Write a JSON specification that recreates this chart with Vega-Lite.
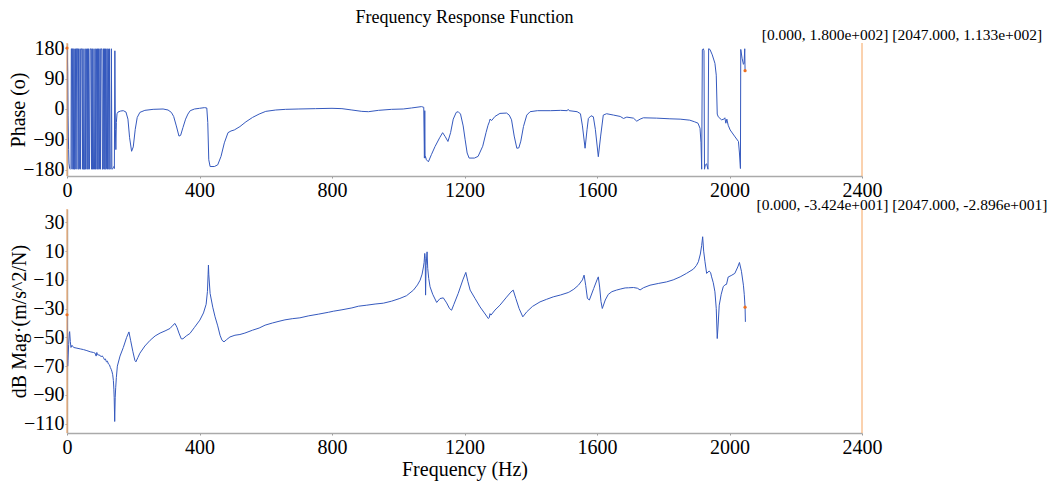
{
  "$schema": "https://vega.github.io/schema/vega-lite/v6.json",
  "padding": {"left": 8, "top": 9, "right": 5, "bottom": 5},
  "background": "white",
  "bounds": "flush",
  "spacing": 33,
  "config": {
    "font": "Liberation Serif",
    "view": {"stroke": null},
    "axis": {
      "labelFont": "Liberation Serif", "titleFont": "Liberation Serif",
      "labelFontSize": 20, "titleFontSize": 20, "titleFontWeight": "normal",
      "labelColor": "black", "titleColor": "black",
      "domainColor": "#aaaaaa", "domainWidth": 1.5,
      "tickColor": "#999999", "tickSize": 2, "grid": false,
      "labelFlush": false, "labelOverlap": false, "labelSeparation": -15, "labelPadding": 2
    },
    "axisY": {"titlePadding": -6, "labelPadding": 1, "labelOverlap": false},
    "axisX": {"titlePadding": 2, "labelOverlap": false}
  },
  "datasets": {
    "phase": [
      {"f":0,"v":180},{"f":1,"v":176},{"f":2,"v":110},{"f":3,"v":-20},{"f":4,"v":-80},{"f":5,"v":-120},{"f":6,"v":-160},{"f":8,"v":-176},{"f":10,"v":-178},{"f":12,"v":-176},{"f":13,"v":178},
      {"f":14,"v":178},{"f":15.5,"v":-178},{"f":17,"v":178},{"f":18.5,"v":178},{"f":20,"v":-178},{"f":21.5,"v":178},{"f":23,"v":-178},{"f":24.5,"v":-177},{"f":26,"v":178},{"f":27.5,"v":-178},{"f":29,"v":178},{"f":30.5,"v":177},{"f":32,"v":178},{"f":33.5,"v":-178},{"f":35,"v":178},{"f":36.5,"v":-178},{"f":38,"v":-176},{"f":39.5,"v":178},{"f":41,"v":-178},{"f":42.5,"v":178},{"f":44,"v":177},{"f":45.5,"v":178},{"f":47,"v":-178},{"f":48.5,"v":178},{"f":50,"v":-178},{"f":51.5,"v":-177},{"f":53,"v":-178},{"f":54.5,"v":178},{"f":56,"v":-178},{"f":57.5,"v":178},{"f":59,"v":177},{"f":60.5,"v":-178},{"f":62,"v":178},{"f":63.5,"v":-178},{"f":65,"v":178},{"f":66.5,"v":-178},{"f":68,"v":-177},{"f":69.5,"v":178},{"f":71,"v":177},{"f":72.5,"v":178},{"f":74,"v":-178},{"f":75.5,"v":178},{"f":77,"v":-178},{"f":78.5,"v":178},{"f":80,"v":-178},{"f":81.5,"v":-176},{"f":83,"v":-178},{"f":84.5,"v":178},{"f":86,"v":-178},{"f":87.5,"v":178},{"f":89,"v":177},{"f":90.5,"v":-178},{"f":92,"v":178},{"f":93.5,"v":-178},{"f":95,"v":178},{"f":96.5,"v":-178},{"f":98,"v":-177},{"f":99.5,"v":178},{"f":101,"v":-178},{"f":102.5,"v":178},{"f":104,"v":177},{"f":105.5,"v":178},{"f":107,"v":-178},{"f":108.5,"v":-177},{"f":110,"v":178},{"f":111.5,"v":-178},{"f":113,"v":178},{"f":114.5,"v":-178},{"f":116,"v":178},{"f":117.5,"v":-178},{"f":119,"v":-176},{"f":120.5,"v":178},{"f":122,"v":-178},{"f":123.5,"v":178},{"f":125,"v":177},{"f":126.5,"v":-178},{"f":128,"v":178},{"f":129.5,"v":-178},{"f":131,"v":-177},{"f":132.5,"v":-175},{"f":134,"v":178},{"f":135.5,"v":-178},{"f":137,"v":-177},
      {"f":138.5,"v":-176},{"f":140,"v":-173},{"f":141.5,"v":-170},{"f":143,"v":-176},{"f":144.5,"v":172},{"f":146,"v":-60},{"f":147.5,"v":-120},{"f":149,"v":-40},{"f":151,"v":-14},{"f":154,"v":-9},
      {"f":162,"v":-6},{"f":170,"v":-5},{"f":178,"v":-9},{"f":184,"v":-30},{"f":189,"v":-85},{"f":195,"v":-125},{"f":200,"v":-112},{"f":206,"v":-60},{"f":212,"v":-25},{"f":220,"v":-10},{"f":235,"v":-4},{"f":260,"v":-1},{"f":290,"v":0},{"f":305,"v":-3},{"f":315,"v":-10},{"f":322,"v":-22},{"f":330,"v":-50},{"f":338,"v":-80},{"f":343,"v":-78},{"f":350,"v":-55},{"f":358,"v":-30},{"f":365,"v":-15},{"f":372,"v":-5},{"f":385,"v":0},{"f":400,"v":2},{"f":415,"v":4},{"f":422,"v":3},{"f":425,"v":-40},{"f":428,"v":-150},{"f":432,"v":-170},{"f":445,"v":-170},{"f":455,"v":-165},{"f":465,"v":-140},{"f":475,"v":-100},{"f":486,"v":-70},{"f":495,"v":-65},{"f":505,"v":-62},{"f":522,"v":-52},{"f":540,"v":-38},{"f":560,"v":-25},{"f":580,"v":-15},{"f":600,"v":-7},{"f":630,"v":-3},{"f":660,"v":-1},{"f":700,"v":0},{"f":750,"v":1},{"f":800,"v":2},{"f":830,"v":1},{"f":860,"v":-3},{"f":890,"v":-7},{"f":910,"v":-8},{"f":940,"v":-4},{"f":980,"v":-1},{"f":1015,"v":0},{"f":1040,"v":3},{"f":1070,"v":7},{"f":1077,"v":5},{"f":1079,"v":-145},{"f":1080,"v":-5},{"f":1081,"v":-145},{"f":1082,"v":-140},{"f":1085,"v":-150},{"f":1091,"v":-156},{"f":1100,"v":-135},{"f":1111,"v":-111},{"f":1125,"v":-85},{"f":1134,"v":-70},{"f":1142,"v":-82},{"f":1150,"v":-96},{"f":1158,"v":-70},{"f":1166,"v":-30},{"f":1175,"v":-10},{"f":1181,"v":-8},{"f":1188,"v":-15},{"f":1196,"v":-50},{"f":1202,"v":-91},{"f":1208,"v":-130},{"f":1214,"v":-145},{"f":1230,"v":-145},{"f":1241,"v":-140},{"f":1255,"v":-110},{"f":1265,"v":-70},{"f":1271,"v":-48},{"f":1275,"v":-38},{"f":1277,"v":-30},{"f":1282,"v":-34},{"f":1292,"v":-22},{"f":1307,"v":-13},{"f":1327,"v":-12},{"f":1335,"v":-18},{"f":1342,"v":-32},{"f":1350,"v":-80},{"f":1358,"v":-116},{"f":1364,"v":-115},{"f":1370,"v":-95},{"f":1378,"v":-52},{"f":1388,"v":-18},{"f":1398,"v":-8},{"f":1420,"v":-5},{"f":1460,"v":-5},{"f":1490,"v":-4},{"f":1510,"v":-5},{"f":1513,"v":-1},{"f":1516,"v":-5},{"f":1540,"v":-8},{"f":1550,"v":-14},{"f":1556,"v":-50},{"f":1564,"v":-116},{"f":1570,"v":-60},{"f":1574,"v":-28},{"f":1582,"v":-20},{"f":1589,"v":-23},{"f":1595,"v":-60},{"f":1604,"v":-141},{"f":1611,"v":-80},{"f":1619,"v":-18},{"f":1629,"v":-14},{"f":1650,"v":-18},{"f":1670,"v":-22},{"f":1680,"v":-28},{"f":1690,"v":-24},{"f":1710,"v":-27},{"f":1720,"v":-36},{"f":1730,"v":-30},{"f":1740,"v":-26},{"f":1780,"v":-27},{"f":1820,"v":-29},{"f":1851,"v":-30},{"f":1880,"v":-33},{"f":1895,"v":-38},{"f":1905,"v":-42},{"f":1911,"v":-57},{"f":1914,"v":-100},{"f":1916,"v":-178},{"f":1918,"v":175},{"f":1921,"v":178},{"f":1923,"v":172},{"f":1924.5,"v":-178},{"f":1927,"v":-165},{"f":1931,"v":-162},{"f":1935,"v":-178},{"f":1937,"v":178},{"f":1941,"v":176},{"f":1948,"v":160},{"f":1956,"v":135},{"f":1960,"v":100},{"f":1963,"v":-15},{"f":1966,"v":-23},{"f":1976,"v":-32},{"f":1983,"v":-30},{"f":1986,"v":-26},{"f":1989,"v":-42},{"f":1992,"v":-30},{"f":1996,"v":-48},{"f":2002,"v":-62},{"f":2015,"v":-80},{"f":2027,"v":-96},{"f":2030,"v":-130},{"f":2033,"v":-176},{"f":2034,"v":176},{"f":2038,"v":150},{"f":2042,"v":132},{"f":2044,"v":135},{"f":2046,"v":178},{"f":2047,"v":113.3}
    ],
    "mag": [
      {"f":0,"v":-34.24},{"f":1,"v":-62},{"f":2,"v":-70},{"f":3,"v":-66},{"f":5,"v":-55},{"f":7,"v":-47},{"f":8,"v":-46},{"f":10,"v":-53},{"f":12,"v":-57},{"f":15,"v":-55.5},{"f":20,"v":-57},{"f":30,"v":-57.5},{"f":40,"v":-58},{"f":50,"v":-58.5},{"f":60,"v":-59.2},{"f":70,"v":-60},{"f":80,"v":-60.5},{"f":85,"v":-61},{"f":88,"v":-63},{"f":90,"v":-60.5},{"f":92,"v":-62},{"f":100,"v":-62.5},{"f":103,"v":-63.5},{"f":106,"v":-62.8},{"f":110,"v":-64},{"f":113,"v":-65.5},{"f":116,"v":-65},{"f":119,"v":-67},{"f":122,"v":-66.5},{"f":125,"v":-68.5},{"f":128,"v":-69},{"f":131,"v":-71},{"f":134,"v":-72.5},{"f":136,"v":-74},{"f":138,"v":-76},{"f":140,"v":-80},{"f":141.5,"v":-86},{"f":142.5,"v":-92},{"f":144,"v":-108.5},{"f":145.5,"v":-92},{"f":147,"v":-85},{"f":149,"v":-78},{"f":152,"v":-70},{"f":160,"v":-63},{"f":170,"v":-57},{"f":180,"v":-50},{"f":187,"v":-46.2},{"f":192,"v":-52},{"f":199,"v":-60},{"f":205,"v":-66},{"f":208,"v":-67},{"f":214,"v":-64},{"f":220,"v":-61},{"f":235,"v":-56},{"f":251,"v":-52},{"f":266,"v":-49},{"f":281,"v":-47},{"f":296,"v":-45.5},{"f":311,"v":-43.8},{"f":320,"v":-41.5},{"f":326,"v":-40.3},{"f":332,"v":-43},{"f":338,"v":-47},{"f":345,"v":-51},{"f":350,"v":-51},{"f":360,"v":-49},{"f":371,"v":-47.3},{"f":385,"v":-43},{"f":401,"v":-38},{"f":412,"v":-33},{"f":420,"v":-27},{"f":424,"v":-18},{"f":426,"v":-6},{"f":427,"v":0.3},{"f":428,"v":-6},{"f":432,"v":-19.4},{"f":440,"v":-29},{"f":447,"v":-35.7},{"f":455,"v":-42},{"f":462,"v":-48.5},{"f":468,"v":-52},{"f":474,"v":-53.1},{"f":482,"v":-51.5},{"f":492,"v":-49.7},{"f":507,"v":-48.5},{"f":522,"v":-48},{"f":537,"v":-47},{"f":560,"v":-45},{"f":580,"v":-43.5},{"f":598,"v":-41.5},{"f":620,"v":-40},{"f":640,"v":-38.8},{"f":658,"v":-37.8},{"f":680,"v":-37},{"f":703,"v":-36.4},{"f":730,"v":-35},{"f":760,"v":-33.8},{"f":790,"v":-32.5},{"f":804,"v":-31.8},{"f":830,"v":-30.8},{"f":860,"v":-29.5},{"f":880,"v":-28.3},{"f":905,"v":-27.6},{"f":930,"v":-26.8},{"f":955,"v":-26.2},{"f":980,"v":-24.8},{"f":1005,"v":-22.9},{"f":1025,"v":-21},{"f":1046,"v":-17.1},{"f":1058,"v":-13.5},{"f":1066,"v":-10.2},{"f":1072,"v":-6},{"f":1076,"v":-1},{"f":1078,"v":2},{"f":1080,"v":8.4},{"f":1081.5,"v":5},{"f":1082.5,"v":-20.6},{"f":1084,"v":0},{"f":1087,"v":9.5},{"f":1089,"v":-2},{"f":1092,"v":-9},{"f":1096,"v":-14.8},{"f":1104,"v":-20},{"f":1116,"v":-25.7},{"f":1126,"v":-23},{"f":1136,"v":-22.5},{"f":1146,"v":-26},{"f":1155,"v":-30},{"f":1161,"v":-31.1},{"f":1168,"v":-27},{"f":1181,"v":-19.4},{"f":1195,"v":-10},{"f":1204,"v":-4.8},{"f":1210,"v":-11},{"f":1217,"v":-17.1},{"f":1232,"v":-23},{"f":1247,"v":-28.8},{"f":1260,"v":-33},{"f":1272,"v":-36.9},{"f":1275,"v":-36},{"f":1277,"v":-33.5},{"f":1280,"v":-34.5},{"f":1292,"v":-31},{"f":1307,"v":-27.6},{"f":1327,"v":-22},{"f":1340,"v":-18.5},{"f":1347,"v":-17.1},{"f":1355,"v":-23},{"f":1365,"v":-30},{"f":1376,"v":-35.7},{"f":1388,"v":-32.2},{"f":1405,"v":-28.5},{"f":1428,"v":-25.3},{"f":1448,"v":-23.5},{"f":1468,"v":-21.8},{"f":1490,"v":-20.5},{"f":1513,"v":-18.8},{"f":1518,"v":-18.2},{"f":1530,"v":-16.5},{"f":1544,"v":-13.7},{"f":1556,"v":-10},{"f":1561,"v":-6.7},{"f":1566,"v":-14},{"f":1571,"v":-22.9},{"f":1577,"v":-24},{"f":1590,"v":-16},{"f":1600,"v":-10},{"f":1604,"v":-7.9},{"f":1608,"v":-15},{"f":1612,"v":-25},{"f":1616,"v":-29.9},{"f":1625,"v":-24},{"f":1634,"v":-20.1},{"f":1645,"v":-18.2},{"f":1659,"v":-17.1},{"f":1672,"v":-16.3},{"f":1685,"v":-15.6},{"f":1695,"v":-15.5},{"f":1710,"v":-15.3},{"f":1722,"v":-15.8},{"f":1730,"v":-17},{"f":1740,"v":-15.5},{"f":1760,"v":-13.7},{"f":1785,"v":-12.5},{"f":1810,"v":-11.4},{"f":1830,"v":-10},{"f":1851,"v":-7.9},{"f":1870,"v":-5.5},{"f":1891,"v":-2.5},{"f":1900,"v":0},{"f":1906,"v":2.6},{"f":1912,"v":8},{"f":1916,"v":14},{"f":1919,"v":20},{"f":1922,"v":10},{"f":1926,"v":2.6},{"f":1931,"v":-5.5},{"f":1935,"v":-4.5},{"f":1939,"v":-3.9},{"f":1943,"v":-5},{"f":1946,"v":-7.9},{"f":1951,"v":-12},{"f":1956,"v":-18.3},{"f":1960,"v":-30},{"f":1963,"v":-50.8},{"f":1966,"v":-40},{"f":1969,"v":-27.6},{"f":1975,"v":-20},{"f":1981,"v":-14.8},{"f":1986,"v":-13.5},{"f":1991,"v":-13.1},{"f":1996,"v":-8},{"f":2005,"v":-7},{"f":2016,"v":-5.5},{"f":2025,"v":-1},{"f":2030,"v":2.1},{"f":2036,"v":-4},{"f":2042,"v":-13.7},{"f":2044.5,"v":-20},{"f":2047,"v":-28.96},{"f":2048,"v":-39.2}
    ],
    "cursor": [
      {"f":0,"phase":180,"mag":-34.24},
      {"f":2047,"phase":113.3,"mag":-28.96}
    ]
  },
  "vconcat": [
    {
      "width": 795, "height": 133,
      "title": {"text": "Frequency Response Function", "fontSize": 18, "font": "Liberation Serif", "fontWeight": "normal", "color": "black", "offset": 1, "anchor": "middle"},
      "layer": [
        {
          "data": {"name": "phase"},
          "mark": {"type": "line", "color": "#3559be", "strokeWidth": 1, "clip": true},
          "encoding": {
            "x": {"field": "f", "type": "quantitative", "scale": {"domain": [0, 2400], "nice": false}, "axis": {"values": [0, 400, 800, 1200, 1600, 2000, 2400], "format": "d", "title": null, "labelOverlap": false, "labelSeparation": -15}},
            "y": {"field": "v", "type": "quantitative", "scale": {"domain": [-198, 195], "nice": false}, "axis": {"values": [-180, -90, 0, 90, 180], "format": "d", "title": "Phase (o)", "labelOverlap": false, "labelSeparation": -15}}
          }
        },
        {"data": {"values": [{}]}, "mark": {"type": "rule", "color": "#f6a45e", "strokeWidth": 1}, "encoding": {"x": {"datum": 0, "type": "quantitative", "axis": {"values": [0, 400, 800, 1200, 1600, 2000, 2400], "format": "d", "title": null, "labelOverlap": false, "labelSeparation": -15}}}},
        {"data": {"values": [{}]}, "mark": {"type": "rule", "color": "#f6a45e", "strokeWidth": 1}, "encoding": {"x": {"datum": 2400, "type": "quantitative", "axis": {"values": [0, 400, 800, 1200, 1600, 2000, 2400], "format": "d", "title": null, "labelOverlap": false, "labelSeparation": -15}}}},
        {
          "data": {"name": "cursor"},
          "mark": {"type": "point", "filled": true, "color": "#ee6f1f", "size": 10, "opacity": 1},
          "encoding": {
            "x": {"field": "f", "type": "quantitative", "axis": {"values": [0, 400, 800, 1200, 1600, 2000, 2400], "format": "d", "title": null, "labelOverlap": false, "labelSeparation": -15}},
            "y": {"field": "phase", "type": "quantitative", "axis": {"values": [-180, -90, 0, 90, 180], "format": "d", "title": "Phase (o)", "labelOverlap": false, "labelSeparation": -15}}
          }
        },
        {
          "data": {"values": [{}]},
          "mark": {"type": "text", "text": "[0.000, 1.800e+002] [2047.000, 1.133e+002]", "font": "Liberation Serif", "fontSize": 15.5, "color": "black", "align": "center", "baseline": "middle", "dx": 40, "dy": -8},
          "encoding": {
            "x": {"datum": 2400, "type": "quantitative", "axis": {"values": [0, 400, 800, 1200, 1600, 2000, 2400], "format": "d", "title": null, "labelOverlap": false, "labelSeparation": -15}},
            "y": {"datum": 195, "type": "quantitative", "axis": {"values": [-180, -90, 0, 90, 180], "format": "d", "title": "Phase (o)", "labelOverlap": false, "labelSeparation": -15}}
          }
        }
      ]
    },
    {
      "width": 795, "height": 224,
      "layer": [
        {
          "data": {"name": "mag"},
          "mark": {"type": "line", "color": "#3559be", "strokeWidth": 1, "clip": true},
          "encoding": {
            "x": {"field": "f", "type": "quantitative", "scale": {"domain": [0, 2400], "nice": false}, "axis": {"values": [0, 400, 800, 1200, 1600, 2000, 2400], "format": "d", "title": "Frequency (Hz)", "labelOverlap": false, "labelSeparation": -15}},
            "y": {"field": "v", "type": "quantitative", "scale": {"domain": [-116.5, 39.3], "nice": false}, "axis": {"values": [-110, -90, -70, -50, -30, -10, 10, 30], "format": "d", "title": "dB Mag·(m/s^2/N)", "labelOverlap": false, "labelSeparation": -15}}
          }
        },
        {"data": {"values": [{}]}, "mark": {"type": "rule", "color": "#f6a45e", "strokeWidth": 1}, "encoding": {"x": {"datum": 0, "type": "quantitative", "axis": {"values": [0, 400, 800, 1200, 1600, 2000, 2400], "format": "d", "title": "Frequency (Hz)", "labelOverlap": false, "labelSeparation": -15}}}},
        {"data": {"values": [{}]}, "mark": {"type": "rule", "color": "#f6a45e", "strokeWidth": 1}, "encoding": {"x": {"datum": 2400, "type": "quantitative", "axis": {"values": [0, 400, 800, 1200, 1600, 2000, 2400], "format": "d", "title": "Frequency (Hz)", "labelOverlap": false, "labelSeparation": -15}}}},
        {
          "data": {"name": "cursor"},
          "mark": {"type": "point", "filled": true, "color": "#ee6f1f", "size": 10, "opacity": 1},
          "encoding": {
            "x": {"field": "f", "type": "quantitative", "axis": {"values": [0, 400, 800, 1200, 1600, 2000, 2400], "format": "d", "title": "Frequency (Hz)", "labelOverlap": false, "labelSeparation": -15}},
            "y": {"field": "mag", "type": "quantitative", "axis": {"values": [-110, -90, -70, -50, -30, -10, 10, 30], "format": "d", "title": "dB Mag·(m/s^2/N)", "labelOverlap": false, "labelSeparation": -15}}
          }
        },
        {
          "data": {"values": [{}]},
          "mark": {"type": "text", "text": "[0.000, -3.424e+001] [2047.000, -2.896e+001]", "font": "Liberation Serif", "fontSize": 15.5, "color": "black", "align": "center", "baseline": "middle", "dx": 40, "dy": -4},
          "encoding": {
            "x": {"datum": 2400, "type": "quantitative", "axis": {"values": [0, 400, 800, 1200, 1600, 2000, 2400], "format": "d", "title": "Frequency (Hz)", "labelOverlap": false, "labelSeparation": -15}},
            "y": {"datum": 39.3, "type": "quantitative", "axis": {"values": [-110, -90, -70, -50, -30, -10, 10, 30], "format": "d", "title": "dB Mag·(m/s^2/N)", "labelOverlap": false, "labelSeparation": -15}}
          }
        }
      ]
    }
  ]
}
